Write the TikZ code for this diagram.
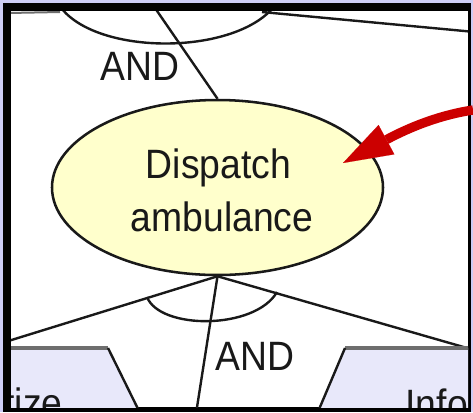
\documentclass[tikz,border=0pt]{standalone}
\usepackage{fontspec}
\setmainfont[FakeStretch=0.91]{Liberation Sans}
\usetikzlibrary{shapes.geometric,arrows.meta}
\definecolor{framelav}{RGB}{204,204,244}
\definecolor{boxlav}{RGB}{232,232,250}
\definecolor{goalyel}{RGB}{255,255,204}
\definecolor{arrred}{RGB}{204,0,0}
\definecolor{inkdark}{RGB}{25,25,25}
\definecolor{edgegray}{RGB}{110,110,110}
\tikzset{every picture/.style={line width=0.75pt}}
\tikzset{
  goal/.style={ellipse, draw=inkdark, fill=goalyel, line width=1.9pt,
    minimum width=248.25pt, minimum height=131.25pt, inner sep=0pt},
  conn/.style={draw=inkdark, line width=1.8pt},
  lbl/.style={inner sep=0pt, text=inkdark, font=\fontsize{30.75}{36}\selectfont},
  taskbox/.style={fill=boxlav, draw=none},
  taskedge/.style={draw=edgegray, line width=2.6pt},
}

\begin{document}
\begin{tikzpicture}[x=0.75pt,y=0.75pt,yscale=-1,xscale=1]
\useasboundingbox (0,0) rectangle (473,412);

%Frame
\fill[framelav] (0,0) rectangle (473,412);
\fill[black] (3,3) rectangle (471,412);
\fill[white] (11,11) rectangle (468,407);

\begin{scope}
\clip (11,11) rectangle (468,407);

%Shape: Ellipse
\node[goal] (dispatch) at (217.5,187.5) {};

%Coordinates at the frame
\coordinate (upL) at (155,8);
\coordinate (upR1) at (262,12);
\coordinate (upR2) at (475,32);
\coordinate (edgeA) at (8,13);
\coordinate (edgeB) at (60,12);
\coordinate (downL) at (5,342);
\coordinate (downM) at (195.8,415);
\coordinate (downR) at (475,350.3);

%Straight Lines
\draw[draw=edgegray, line width=1.5pt] (edgeA) -- (edgeB);
\draw[conn] (upL) -- (dispatch.north);
\draw[conn] (upR1) -- (upR2);
\draw[conn] (dispatch.south) -- (downL);
\draw[conn] (dispatch.south) -- (downM);
\draw[conn] (dispatch.south) -- (downR);

%Curve Lines
\draw[conn] (62,9) .. controls (100,55) and (230,55) .. (272,9);
\draw[conn] (147,297) .. controls (160,330) and (255,330) .. (277,292);

%Shape: Boxes
\fill[taskbox] (5,348) -- (108,348) -- (141,415) -- (5,415) -- cycle;
\draw[taskedge] (5,348) -- (108,348);
\draw[conn] (108,348) -- (141,415);
\fill[taskbox] (345,348) -- (475,348) -- (475,415) -- (316.6,415) -- cycle;
\draw[taskedge] (345,348) -- (475,348);
\draw[conn] (345,348) -- (316.6,415);

% Text Node
\node[lbl, anchor=base] (txtDis) at (218.5,178) {Dispatch};
% Text Node
\node[lbl, anchor=base] (txtAmb) at (222,231) {ambulance};
% Text Node
\node[lbl, anchor=base west] (andTop) at (100,80) {AND};
% Text Node
\node[lbl, anchor=base west] (andBot) at (215,370) {AND};
% Text Node
\node[lbl, anchor=base east] (txtPri) at (63,417) {Prioritize};
% Text Node
\node[lbl, anchor=base west] (txtInf) at (405,418) {Inform};
\end{scope}

%Curve Lines: pointer
\coordinate (ptrS) at (473,110);
\coordinate (ptrT) at (343,163);
\draw[arrred, line width=7pt, -{Triangle[length=37pt,width=25pt,line width=0.1pt]}]
  (ptrS) .. controls (440,115) and (410,127) .. (ptrT);

\end{tikzpicture}
\end{document}
